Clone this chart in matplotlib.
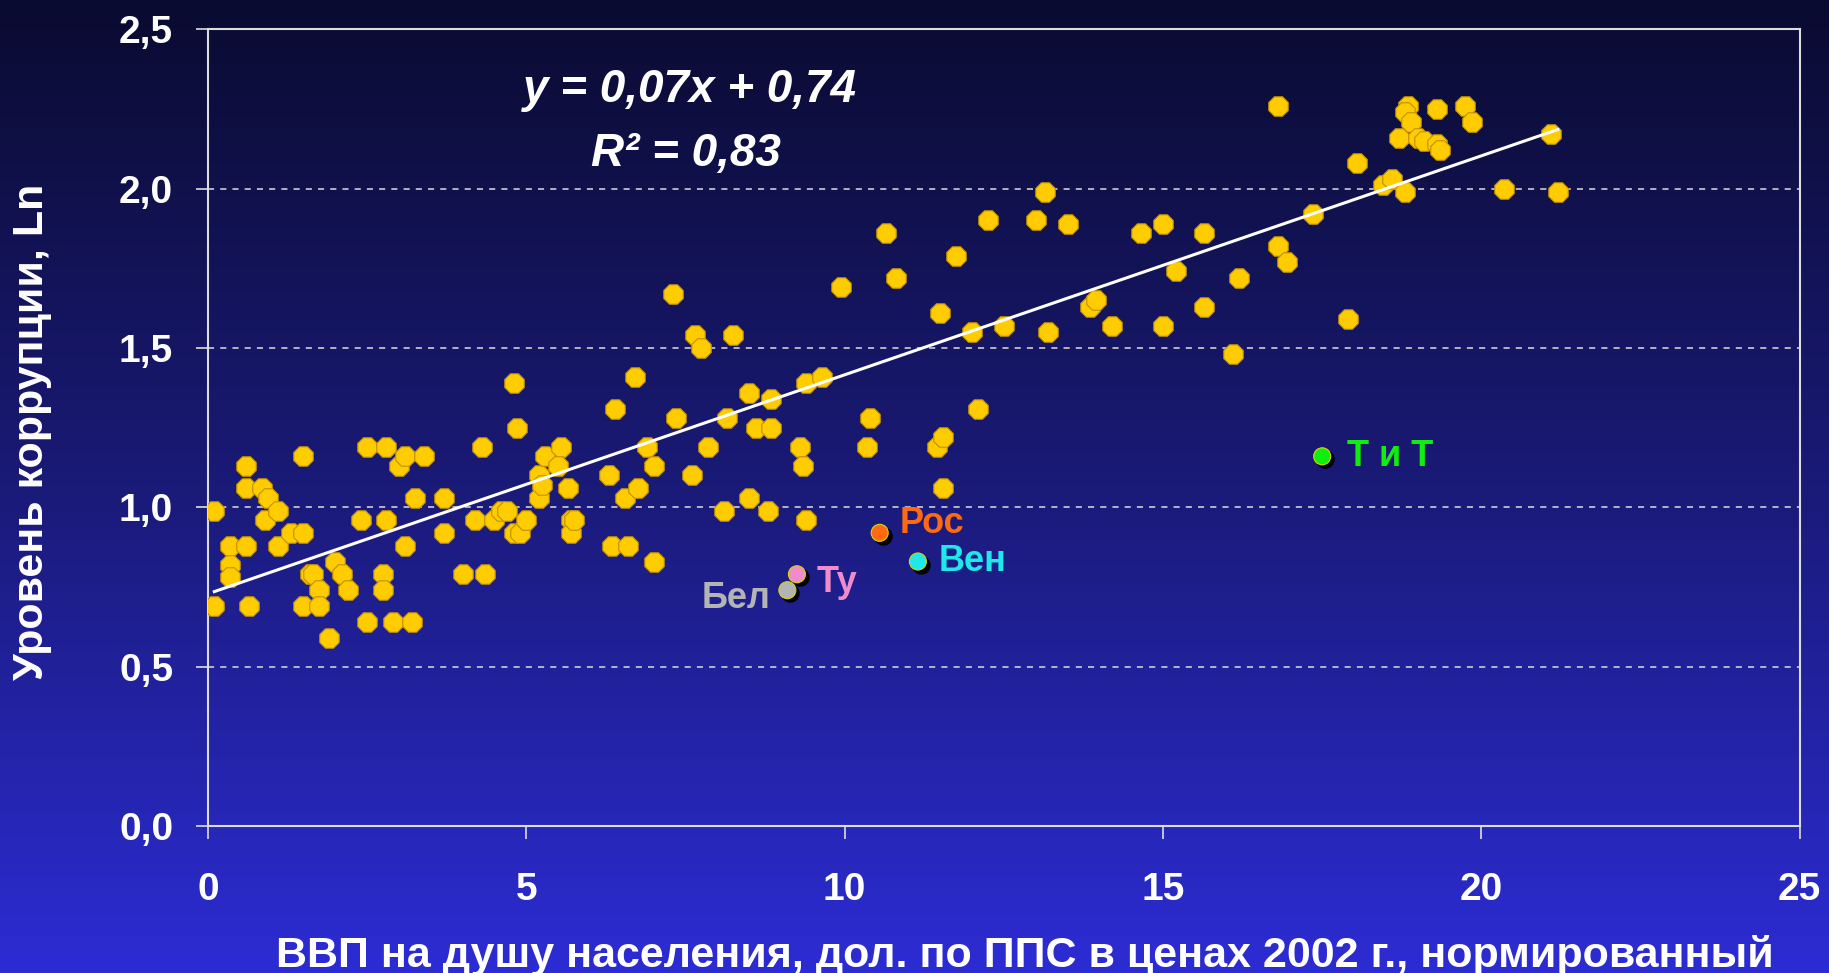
import numpy as np
import matplotlib.pyplot as plt
import matplotlib.transforms as mtransforms
from matplotlib.colors import LinearSegmentedColormap

# yellow points: GDP per capita (normalised) vs corruption level
gdp = [0.1, 0.1, 0.35, 0.35, 0.35, 0.6, 0.6, 0.6, 0.65, 0.85, 0.95, 0.9,
       1.1, 1.1, 1.3, 1.5, 1.5, 1.5, 1.6, 1.65, 1.75, 1.75, 1.9, 2.0,
       2.1, 2.2, 2.4, 2.5, 2.5, 2.8, 2.8, 2.75, 2.75, 2.9, 3.0, 3.1,
       3.1, 3.2, 3.25, 3.4, 3.7, 3.7, 4.0, 4.2, 4.3, 4.35, 4.5, 4.6,
       4.7, 4.8, 4.8, 4.9, 4.85, 5.0, 5.2, 5.2, 5.25, 5.3, 5.55, 5.5,
       5.65, 5.7, 5.7, 5.75, 6.3, 6.4, 6.35, 6.6, 6.55, 6.75, 6.7, 6.9,
       7.0, 7.0, 7.3, 7.35, 7.6, 7.65, 7.75, 7.85, 8.1, 8.15, 8.25, 8.5,
       8.5, 8.6, 8.85, 8.8, 8.85, 9.3, 9.35, 9.4, 9.4, 9.65, 9.95, 10.35,
       10.4, 10.65, 10.8, 11.45, 11.55, 11.5, 11.55, 11.75, 12.0, 12.1,
       12.25, 12.5, 13.0, 13.15, 13.2, 13.5, 13.85, 13.95, 14.2, 14.65,
       15.0, 15.0, 15.2, 15.65, 15.65, 16.1, 16.2, 16.8, 16.8, 16.95,
       17.35, 17.9, 18.05, 18.45, 18.6, 18.7, 18.85, 18.8, 18.9, 18.8,
       19.0, 19.1, 19.3, 19.3, 19.35, 19.75, 19.85, 20.35, 21.1, 21.2]
corr = [0.99, 0.69, 0.88, 0.82, 0.78, 1.13, 1.06, 0.88, 0.69, 1.06, 1.03, 0.96,
        0.99, 0.88, 0.92, 0.92, 1.16, 0.69, 0.79, 0.79, 0.74, 0.69, 0.59, 0.83,
        0.79, 0.74, 0.96, 0.64, 1.19, 1.19, 0.96, 0.79, 0.74, 0.64, 1.13, 1.16,
        0.88, 0.64, 1.03, 1.16, 1.03, 0.92, 0.79, 0.96, 1.19, 0.79, 0.96, 0.99,
        0.99, 1.39, 0.92, 0.92, 1.25, 0.96, 1.10, 1.03, 1.07, 1.16, 1.19, 1.13,
        1.06, 0.96, 0.92, 0.96, 1.10, 1.31, 0.88, 0.88, 1.03, 1.06, 1.41, 1.19,
        1.13, 0.83, 1.67, 1.28, 1.10, 1.54, 1.50, 1.19, 0.99, 1.28, 1.54, 1.36,
        1.03, 1.25, 1.25, 0.99, 1.34, 1.19, 1.13, 0.96, 1.39, 1.41, 1.69, 1.19,
        1.28, 1.86, 1.72, 1.19, 1.22, 1.61, 1.06, 1.79, 1.55, 1.31,
        1.90, 1.57, 1.90, 1.99, 1.55, 1.89, 1.63, 1.65, 1.57, 1.86,
        1.89, 1.57, 1.74, 1.86, 1.63, 1.48, 1.72, 2.26, 1.82, 1.77,
        1.92, 1.59, 2.08, 2.01, 2.03, 2.16, 2.26, 2.24, 2.21, 1.99,
        2.16, 2.15, 2.25, 2.14, 2.12, 2.26, 2.21, 2.00, 2.17, 1.99]

# highlighted countries
hl_names = ['Бел', 'Ту', 'Рос', 'Вен', 'Т и Т']
hl_x = [9.1, 9.25, 10.55, 11.15, 17.5]
hl_y = [0.74, 0.79, 0.92, 0.83, 1.16]
hl_colors = ['#b4b4b4', '#f08ccc', '#ff6a10', '#20e8e8', '#10ee10']

fig = plt.figure(figsize=(18.29, 9.73), dpi=100)

# background gradient
bg = fig.add_axes([0, 0, 1, 1], zorder=-1)
cmap = LinearSegmentedColormap.from_list('bg', ['#0a0b30', '#1a1a78', '#2c2cd4'])
bg.imshow(np.linspace(0, 1, 256).reshape(-1, 1), aspect='auto', cmap=cmap,
          extent=[0, 1, 0, 1])
bg.axis('off')

ax = fig.add_axes([0.1137, 0.151, 0.8703, 0.819])
ax.set_facecolor('none')

ax.scatter(gdp, corr, s=230, marker='8', color='#ffcc00',
           edgecolors='#c09000', linewidths=0.8, zorder=3)

# trend line
k, b = np.polyfit(gdp, corr, 1)
xs = np.array([min(gdp), max(gdp)])
ax.plot(xs, k * xs + b, color='white', lw=2.2, zorder=4)

# highlighted points with black shadow
shadow = mtransforms.offset_copy(ax.transData, fig=fig, x=3, y=-3, units='dots')
ax.scatter(hl_x, hl_y, s=150, marker='o', color='black', transform=shadow, zorder=5)
ax.scatter(hl_x, hl_y, s=150, marker='o', color=hl_colors,
           edgecolors='#d8d800', linewidths=0.8, zorder=6)

offsets = [(-12, -6, 'right'), (14, -6, 'left'), (14, 7, 'left'),
           (15, 0, 'left'), (18, 0, 'left')]
for name, x, y, c, (dx, dy, ha) in zip(hl_names, hl_x, hl_y, hl_colors, offsets):
    ax.annotate(name, xy=(x, y), xytext=(dx, dy), textcoords='offset points',
                ha=ha, va='center', color=c, fontsize=26, fontweight='bold',
                family='Liberation Sans', zorder=7)

ax.text(690, 973 - 90, 'y = 0,07x + 0,74', transform=None,
        ha='center', va='center', color='white', fontsize=33,
        fontweight='bold', fontstyle='italic', family='Liberation Sans')
ax.text(686, 973 - 154, 'R² = 0,83', transform=None,
        ha='center', va='center', color='white', fontsize=33,
        fontweight='bold', fontstyle='italic', family='Liberation Sans')

ax.set_xlim(0, 25)
ax.set_ylim(0, 2.5)
ax.set_xticks([0, 5, 10, 15, 20, 25])
ax.set_yticks([0, 0.5, 1.0, 1.5, 2.0, 2.5])
ax.set_xticklabels(['0', '5', '10', '15', '20', '25'])
ax.set_yticklabels(['0,0', '0,5', '1,0', '1,5', '2,0', '2,5'])
for lab in ax.get_xticklabels() + ax.get_yticklabels():
    lab.set_fontweight('bold')
    lab.set_family('Liberation Sans')
ax.tick_params(colors='#dddddd', labelcolor='white', labelsize=28,
               length=9, width=1.2, direction='out')
ax.tick_params(axis='x', pad=24)
ax.tick_params(axis='y', pad=16)

for y in [0.5, 1.0, 1.5, 2.0]:
    ax.axhline(y, color='#dddddd', lw=1.1, ls=(0, (4, 4)), zorder=1)
for sp in ax.spines.values():
    sp.set_color('#dddddd')
    sp.set_linewidth(1.5)

ax.set_xlabel('ВВП на душу населения, дол. по ППС в ценах 2002 г., нормированный',
              color='white', fontsize=31, fontweight='bold',
              family='Liberation Sans')
ax.xaxis.set_label_coords(0.513, -0.137)
ax.set_ylabel('Уровень коррупции, Ln', color='white', fontsize=31,
              fontweight='bold', family='Liberation Sans')
ax.yaxis.set_label_coords(-0.098, 0.495)

fig.savefig('out.png', dpi=100)
